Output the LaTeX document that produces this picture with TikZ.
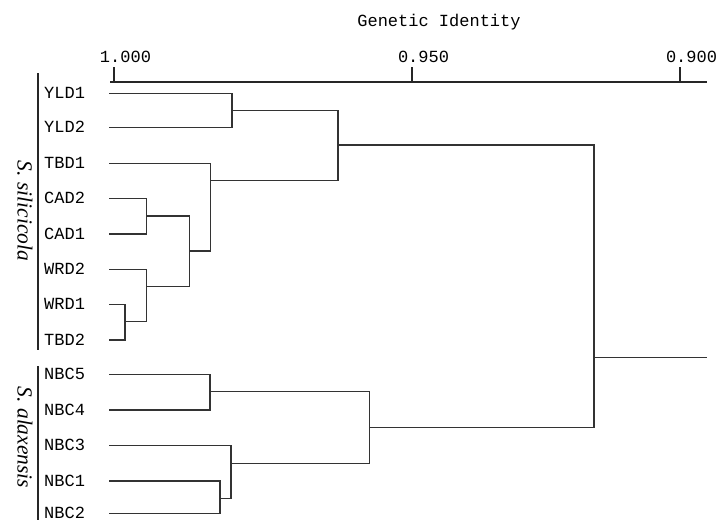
\documentclass[tikz,border=0pt]{standalone}
\usepackage{fontspec}
\setmonofont{Liberation Mono}
\newfontfamily\speciesfont{Liberation Serif}
\begin{document}
\begin{tikzpicture}[x=1pt,y=-1pt,
  tree/.style={line width=1.2pt, draw=black!80, line join=miter},
  axisline/.style={line width=1.4pt, draw=black!85},
  leaf/.style={font=\ttfamily\fontsize{17}{17}\selectfont, anchor=base west, inner sep=0pt, text=black},
  ticklabel/.style={font=\ttfamily\fontsize{17}{17}\selectfont, anchor=base, inner sep=0pt, text=black},
  species/.style={font=\speciesfont\itshape\fontsize{21.5}{21.5}\selectfont, rotate=-90, inner sep=0pt, text=black},
  bar/.style={line width=1.2pt, draw=black!85}]
\useasboundingbox (0,0) rectangle (719,520);

% scale: genetic identity axis
\node[ticklabel] (title) at (439,26.7) {Genetic Identity};
\coordinate (axl) at (110,82);
\coordinate (axr) at (707,82);
\draw[axisline] (axl) -- (axr);
\foreach \name/\x/\lab in {t100/114/1.000, t095/412/0.950, t090/680/0.900}{
  \coordinate (\name) at (\x,82);
  \coordinate (\name-top) at (\x,66.5);
  \draw[axisline, line width=1.1pt] (\name) -- (\name-top);
  \node[ticklabel] (\name-lab) at (\x+11.5,62.7) {\lab};
}

% leaves: label and start of the branch
\foreach \n/\y in {YLD1/93.3, YLD2/127.7, TBD1/163.3, CAD2/198.3, CAD1/234,
                   WRD2/269.3, WRD1/304.3, TBD2/340, NBC5/374.3, NBC4/410,
                   NBC3/445.7, NBC1/481, NBC2/513.3}{
  \node[leaf] (\n) at (44,\y+5) {\n};
  \coordinate (\n-s) at (109,\y);
}

% cluster joins (x = identity level, y = outgoing branch)
\coordinate (j1)  at (232,110.7);
\coordinate (j2)  at (146.7,216);
\coordinate (j3)  at (125,321.7);
\coordinate (j4)  at (146.7,286.7);
\coordinate (j5)  at (189.3,251);
\coordinate (j6)  at (210.7,180.7);
\coordinate (j7)  at (338,145);
\coordinate (j9)  at (210,391.7);
\coordinate (j10) at (220,498.3);
\coordinate (j11) at (231,463.3);
\coordinate (j12) at (369.3,427.3);
\coordinate (j8)  at (594,357.3);
\coordinate (rootend) at (707,357.3);

% S. silicicola cluster
\draw[tree] (YLD1-s) -| (j1) |- (YLD2-s);
\draw[tree] (CAD2-s) -| (j2) |- (CAD1-s);
\draw[tree] (WRD1-s) -| (j3) |- (TBD2-s);
\draw[tree] (WRD2-s) -| (j4) |- (j3);
\draw[tree] (j2) -| (j5) |- (j4);
\draw[tree] (TBD1-s) -| (j6) |- (j5);
\draw[tree] (j1) -| (j7) |- (j6);

% S. alaxensis cluster
\draw[tree] (NBC5-s) -| (j9) |- (NBC4-s);
\draw[tree] (NBC1-s) -| (j10) |- (NBC2-s);
\draw[tree] (NBC3-s) -| (j11) |- (j10);
\draw[tree] (j9) -| (j12) |- (j11);

% root
\draw[tree] (j7) -| (j8) |- (j12);
\draw[tree] (j8) -- (rootend);

% species brackets
\coordinate (b1t) at (38,73);
\coordinate (b1b) at (38,350);
\coordinate (b2t) at (38,366);
\coordinate (b2b) at (38,520);
\draw[bar] (b1t) -- (b1b);
\draw[bar] (b2t) -- (b2b);
\node[species] (sil) at (25,211) {S. silicicola};
\node[species] (ala) at (25,437.5) {S. alaxensis};
\end{tikzpicture}
\end{document}
